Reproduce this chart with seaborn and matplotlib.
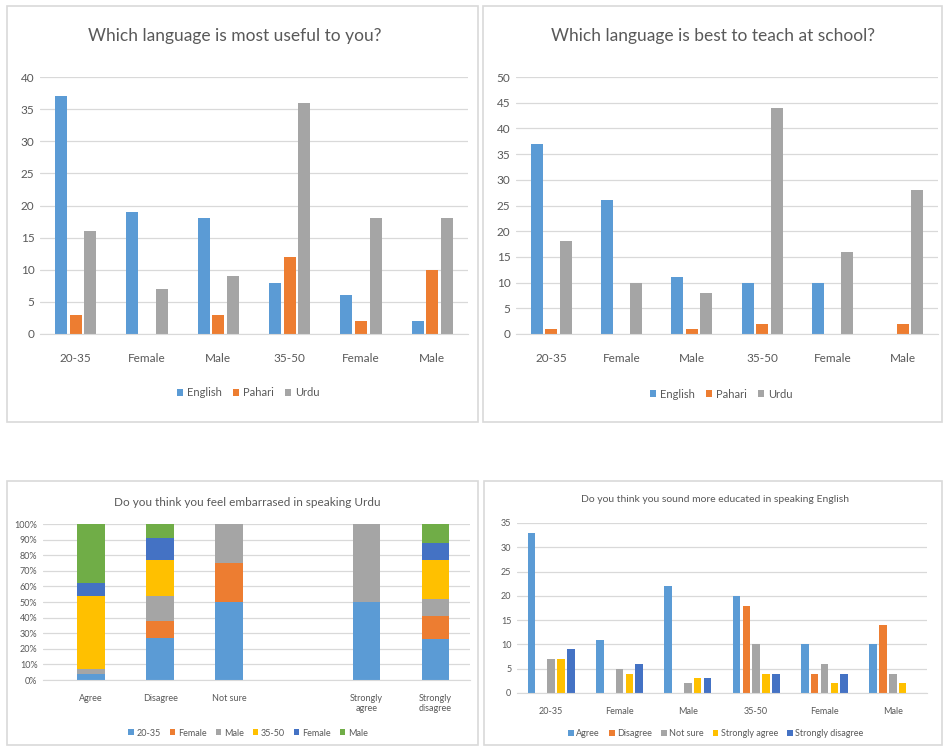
import matplotlib
matplotlib.use("Agg")
import numpy as np
import pandas as pd
import seaborn as sns
import matplotlib.pyplot as plt
from matplotlib.patches import Rectangle
from matplotlib.ticker import PercentFormatter

# ---- data ----
groups = ["20-35", "Female", "Male", "35-50", "Female", "Male"]

useful_series = ["English", "Pahari", "Urdu"]
useful_english = [37, 19, 18, 8, 6, 2]
useful_pahari = [3, 0, 3, 12, 2, 10]
useful_urdu = [16, 7, 9, 36, 18, 18]

teach_english = [37, 26, 11, 10, 10, 0]
teach_pahari = [1, 0, 1, 2, 0, 2]
teach_urdu = [18, 10, 8, 44, 16, 28]

embar_cats = ["Agree", "Disagree", "Not sure", "", "Strongly\nagree", "Strongly\ndisagree"]
embar_series = ["20-35", "Female", "Male", "35-50", "Female", "Male"]
embar_2035 = [4, 27, 50, 0, 50, 26]
embar_female1 = [0, 11, 25, 0, 0, 15]
embar_male1 = [3, 16, 25, 0, 50, 11]
embar_3550 = [47, 23, 0, 0, 0, 25]
embar_female2 = [8, 14, 0, 0, 0, 11]
embar_male2 = [38, 9, 0, 0, 0, 12]

edu_series = ["Agree", "Disagree", "Not sure", "Strongly agree", "Strongly disagree"]
edu_agree = [33, 11, 22, 20, 10, 10]
edu_disagree = [0, 0, 0, 18, 4, 14]
edu_notsure = [7, 5, 2, 10, 6, 4]
edu_sagree = [7, 4, 3, 4, 2, 2]
edu_sdisagree = [9, 6, 3, 4, 4, 0]

# excel office colours
c_blue, c_orange, c_gray = "#5B9BD5", "#ED7D31", "#A5A5A5"
c_yellow, c_dblue, c_green = "#FFC000", "#4472C4", "#70AD47"
txt = "#595959"
grid = "#D9D9D9"

sns.set_style("white")
plt.rcParams["font.family"] = ["Lato", "DejaVu Sans"]

W, H = 944, 748
fig = plt.figure(figsize=(W / 100, H / 100), dpi=100)


def px_axes(x0, y0, x1, y1):
    return fig.add_axes([x0 / W, 1 - y1 / H, (x1 - x0) / W, (y1 - y0) / H])


def panel(x0, y0, x1, y1):
    fig.patches.append(Rectangle((x0 / W, 1 - y1 / H), (x1 - x0) / W, (y1 - y0) / H,
                                 transform=fig.transFigure, fill=False,
                                 edgecolor=grid, linewidth=1.2))


def style(ax, fs, xpad):
    for s in ["top", "right", "left"]:
        ax.spines[s].set_visible(False)
    ax.spines["bottom"].set_color(grid)
    ax.yaxis.grid(True, color=grid, linewidth=0.9)
    ax.set_axisbelow(True)
    ax.tick_params(length=0, labelsize=fs, colors=txt, pad=4)
    ax.tick_params(axis="x", pad=xpad)
    ax.set_xlabel("")
    ax.set_ylabel("")


def grouped(ax, series, values, colors, width, gap):
    df = pd.DataFrame({
        "pos": np.tile(np.arange(len(groups)), len(series)),
        "series": np.repeat(series, len(groups)),
        "value": np.concatenate(values),
    })
    sns.barplot(data=df, x="pos", y="value", hue="series", hue_order=series,
                palette=colors, width=width, gap=gap, saturation=1,
                linewidth=0, ax=ax)
    handles, labels = ax.get_legend_handles_labels()
    ax.get_legend().remove()
    ax.set_xticks(range(len(groups)))
    ax.set_xticklabels(groups)
    return handles, labels


# ---- top left ----
panel(7, 6, 478, 422)
ax1 = px_axes(40, 77, 468, 334)
h, l = grouped(ax1, useful_series, [useful_english, useful_pahari, useful_urdu],
               [c_blue, c_orange, c_gray], 0.62, 0.18)
ax1.set_ylim(0, 40)
ax1.set_yticks(range(0, 41, 5))
style(ax1, 8.5, 14)
fig.text(235 / W, 1 - 36 / H, "Which language is most useful to you?", ha="center",
         va="center", fontsize=12.5, color=txt)
fig.legend(h, l, loc="center", bbox_to_anchor=(248 / W, 1 - 393 / H), ncol=3,
           frameon=False, fontsize=8, labelcolor=txt, handlelength=0.6,
           handleheight=0.6, handletextpad=0.3, columnspacing=1.0)

# ---- top right ----
panel(483, 6, 942, 422)
ax2 = px_axes(516, 77, 938, 334)
h, l = grouped(ax2, useful_series, [teach_english, teach_pahari, teach_urdu],
               [c_blue, c_orange, c_gray], 0.62, 0.18)
ax2.set_ylim(0, 50)
ax2.set_yticks(range(0, 51, 5))
style(ax2, 8.5, 14)
fig.text(713 / W, 1 - 36 / H, "Which language is best to teach at school?", ha="center",
         va="center", fontsize=12.5, color=txt)
fig.legend(h, l, loc="center", bbox_to_anchor=(721 / W, 1 - 394 / H), ncol=3,
           frameon=False, fontsize=8, labelcolor=txt, handlelength=0.6,
           handleheight=0.6, handletextpad=0.3, columnspacing=1.0)

# ---- bottom left: 100% stacked ----
panel(7, 481, 478, 745)
ax3 = px_axes(43, 524, 470, 680)
layers = [embar_2035, embar_female1, embar_male1, embar_3550, embar_female2, embar_male2]
layer_colors = [c_blue, c_orange, c_gray, c_yellow, c_dblue, c_green]
cum = np.cumsum(np.array(layers), axis=0)
pos = np.arange(len(embar_cats))
for i in range(len(layers) - 1, -1, -1):
    sns.barplot(x=pos, y=cum[i], color=layer_colors[i], width=0.4, saturation=1,
                linewidth=0, ax=ax3, label=embar_series[i])
h, l = ax3.get_legend_handles_labels()
if ax3.get_legend() is not None:
    ax3.get_legend().remove()
h, l = h[::-1], l[::-1]
ax3.set_xlim(-0.7, 5.5)
ax3.set_ylim(0, 100)
ax3.set_yticks(range(0, 101, 10))
ax3.yaxis.set_major_formatter(PercentFormatter(100, decimals=0))
ax3.set_xticks(pos)
ax3.set_xticklabels(embar_cats)
style(ax3, 6.5, 10)
fig.text(247 / W, 1 - 502 / H, "Do you think you feel embarrased in speaking Urdu",
         ha="center", va="center", fontsize=8.5, color=txt)
fig.legend(h, l, loc="center", bbox_to_anchor=(248 / W, 1 - 733 / H), ncol=6,
           frameon=False, fontsize=6.5, labelcolor=txt, handlelength=0.6,
           handleheight=0.6, handletextpad=0.3, columnspacing=1.0)

# ---- bottom right ----
panel(484, 481, 942, 745)
ax4 = px_axes(517, 523, 927, 693)
h, l = grouped(ax4, edu_series, [edu_agree, edu_disagree, edu_notsure, edu_sagree, edu_sdisagree],
               [c_blue, c_orange, c_gray, c_yellow, c_dblue], 0.72, 0.25)
ax4.set_ylim(0, 35)
ax4.set_yticks(range(0, 36, 5))
style(ax4, 6.5, 10)
fig.text(715 / W, 1 - 500 / H, "Do you think you sound more educated in speaking English",
         ha="center", va="center", fontsize=7.5, color=txt)
fig.legend(h, l, loc="center", bbox_to_anchor=(716 / W, 1 - 734 / H), ncol=5,
           frameon=False, fontsize=6.5, labelcolor=txt, handlelength=0.6,
           handleheight=0.6, handletextpad=0.3, columnspacing=1.0)

fig.savefig("out.png", dpi=100)
